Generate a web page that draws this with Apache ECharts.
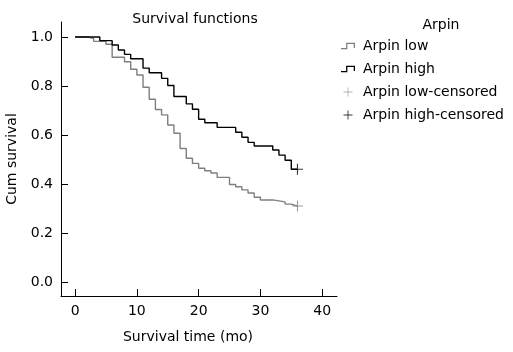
<!DOCTYPE html>
<html>
<head>
<meta charset="utf-8">
<script src="https://cdn.jsdelivr.net/npm/echarts@6/dist/echarts.min.js"></script>
<style>
  html, body { margin: 0; padding: 0; background: #fff; }
  #chart { width: 513px; height: 352px; }
</style>
</head>
<body>
<div id="chart"></div>
<script>
// Kaplan-Meier steps: [time (mo), cum survival]
const arpinLow = [
  [0, 1.0], [2, 0.993], [3, 0.982], [5, 0.970], [6, 0.917], [8, 0.899],
  [9, 0.868], [10, 0.845], [11, 0.795], [12, 0.746], [13, 0.704], [14, 0.682],
  [15, 0.641], [16, 0.607], [17, 0.545], [18, 0.505], [19, 0.484], [20, 0.464],
  [21, 0.454], [22, 0.445], [23, 0.427], [25, 0.398], [26, 0.389], [27, 0.376],
  [28, 0.363], [29, 0.346], [30, 0.335], [32, 0.327], [34, 0.318], [35, 0.310],
  [36, 0.310]
];
const arpinHigh = [
  [0, 1.0], [4, 0.985], [6, 0.967], [7, 0.947], [8, 0.929], [9, 0.911],
  [11, 0.873], [12, 0.854], [14, 0.831], [15, 0.802], [16, 0.757], [18, 0.727],
  [19, 0.705], [20, 0.664], [21, 0.650], [23, 0.631], [26, 0.611], [27, 0.591],
  [28, 0.570], [29, 0.555], [32, 0.539], [33, 0.518], [34, 0.497], [35, 0.460],
  [36, 0.460]
];
const lowCensored = [[36, 0.310]];
const highCensored = [[36, 0.460]];

const xTicks = [0, 10, 20, 30, 40];
const yTicks = [0, 0.2, 0.4, 0.6, 0.8, 1.0];

const font = 'DejaVu Sans';
const plus = 'path://M4.5,0h1v4.5h4.5v1h-4.5v4.5h-1v-4.5h-4.5v-1h4.5z';
const stepIcon = 'path://M0,5h5v1h-5z M4,1h1v5h-1z M4,1h7v1h-7z M10,1h1v4h-1z';

const chart = echarts.init(document.getElementById('chart'));

chart.setOption({
  animation: false,
  textStyle: { fontFamily: font },
  title: [
    {
      text: 'Survival functions',
      left: 190, top: 7, textAlign: 'center',
      textStyle: { fontFamily: font, fontSize: 14, fontWeight: 'normal', color: '#000' }
    },
    {
      text: 'Arpin',
      left: 436, top: 13, textAlign: 'center',
      textStyle: { fontFamily: font, fontSize: 14, fontWeight: 'normal', color: '#000' }
    }
  ],
  legend: {
    orient: 'vertical',
    left: 336, top: 34,
    itemWidth: 14, itemHeight: 9,
    itemGap: 9,
    textStyle: { fontFamily: font, fontSize: 14, color: '#000', padding: [0, 0, 0, 3] },
    data: [
      { name: 'Arpin low', icon: stepIcon },
      { name: 'Arpin high', icon: stepIcon },
      { name: 'Arpin low-censored', icon: plus, itemStyle: { color: '#a0a0a0' } },
      { name: 'Arpin high-censored', icon: plus }
    ]
  },
  grid: { left: 61, right: 176, top: 22, bottom: 56, outerBoundsMode: 'none' },
  xAxis: {
    type: 'value',
    min: -2.28, max: 42.4,
    name: 'Survival time (mo)',
    nameLocation: 'middle',
    nameGap: 34,
    nameTextStyle: { fontFamily: font, fontSize: 14, color: '#000', padding: [0, 22, 0, 0] },
    axisLine: { onZero: false, lineStyle: { color: '#000', width: 1 } },
    axisTick: { inside: true, length: 7, customValues: xTicks, lineStyle: { color: '#000' } },
    axisLabel: { customValues: xTicks, margin: 8, fontFamily: font, fontSize: 14, color: '#000' },
    splitLine: { show: false }
  },
  yAxis: {
    type: 'value',
    min: -0.057, max: 1.061,
    name: 'Cum survival',
    nameLocation: 'middle',
    nameGap: 38,
    nameTextStyle: { fontFamily: font, fontSize: 14, color: '#000' },
    axisLine: { show: true, onZero: false, lineStyle: { color: '#000', width: 1 } },
    axisTick: { show: true, inside: true, length: 7, customValues: yTicks, lineStyle: { color: '#000' } },
    axisLabel: {
      customValues: yTicks, margin: 8, fontFamily: font, fontSize: 14, color: '#000',
      formatter: v => v.toFixed(1)
    },
    splitLine: { show: false }
  },
  series: [
    {
      name: 'Arpin low', type: 'line', step: 'end', data: arpinLow,
      showSymbol: false, symbol: 'none',
      itemStyle: { color: '#7f7f7f' },
      lineStyle: { color: '#7f7f7f', width: 1.4 }
    },
    {
      name: 'Arpin high', type: 'line', step: 'end', data: arpinHigh,
      showSymbol: false, symbol: 'none',
      itemStyle: { color: '#000' },
      lineStyle: { color: '#000', width: 1.4 }
    },
    {
      name: 'Arpin low-censored', type: 'scatter', data: lowCensored,
      symbol: plus, symbolSize: 11,
      itemStyle: { color: '#7f7f7f' }
    },
    {
      name: 'Arpin high-censored', type: 'scatter', data: highCensored,
      symbol: plus, symbolSize: 11,
      itemStyle: { color: '#000' }
    }
  ]
});
</script>
</body>
</html>
